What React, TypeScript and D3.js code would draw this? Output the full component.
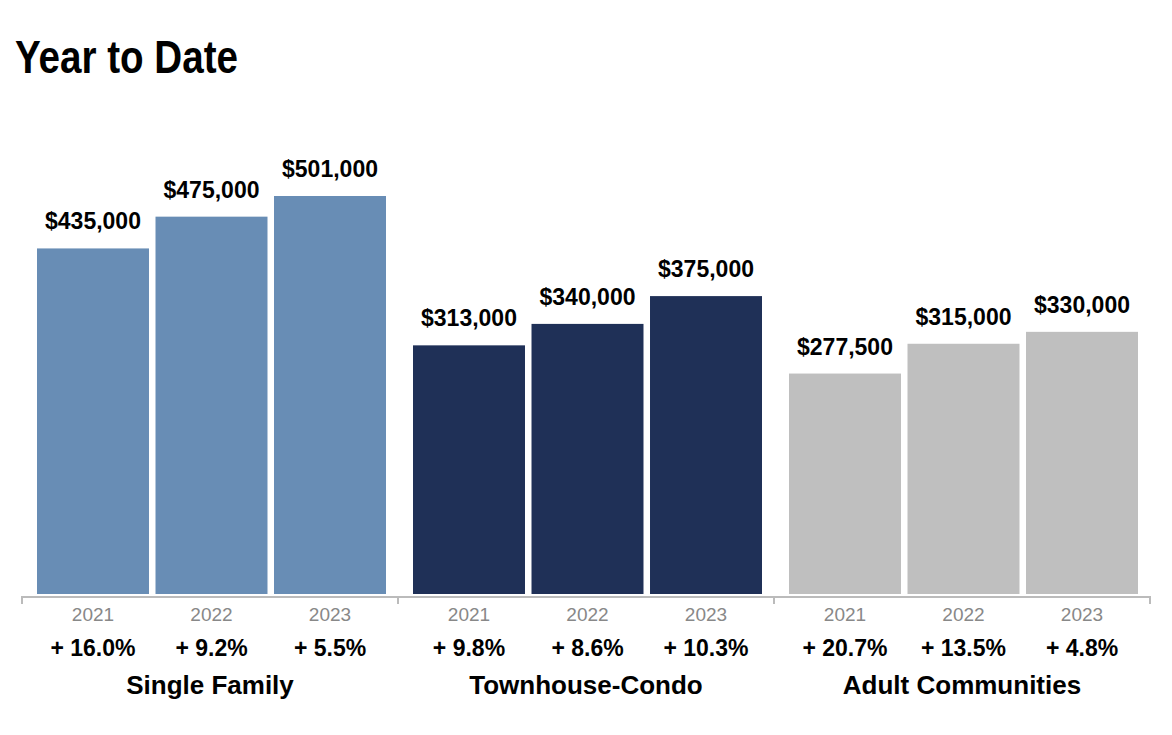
import React from 'react';
import * as d3 from 'd3';

const title = 'Year to Date';
const categories = ['Single Family', 'Townhouse-Condo', 'Adult Communities'];
const years = ['2021', '2022', '2023'];
const singleFamily = [435000, 475000, 501000];
const townhouseCondo = [313000, 340000, 375000];
const adultCommunities = [277500, 315000, 330000];
const changeSingleFamily = ['+ 16.0%', '+ 9.2%', '+ 5.5%'];
const changeTownhouse = ['+ 9.8%', '+ 8.6%', '+ 10.3%'];
const changeAdult = ['+ 20.7%', '+ 13.5%', '+ 4.8%'];
const colors = ['#688db5', '#1f3057', '#bfbfbf'];

const W = 1172;
const H = 735;
const baseY = 594;
const font = "'Liberation Sans', Arial, sans-serif";

const App: React.FC = () => {
  const series = [singleFamily, townhouseCondo, adultCommunities];
  const changes = [changeSingleFamily, changeTownhouse, changeAdult];

  const x0 = d3.scaleBand<string>().domain(categories).range([22, 1150]);
  const x1 = d3
    .scaleBand<string>()
    .domain(years)
    .range([15, x0.bandwidth() - 12])
    .paddingInner(0.055);
  const y = d3.scaleLinear().domain([0, 600000]).range([baseY, baseY - 398 * 600000 / 501000]);
  const fmt = (v: number) => '$' + d3.format(',')(v);

  const boundaries = [...categories.map(c => x0(c) as number), x0.range()[1]];

  return (
    <svg width={W} height={H} style={{ position: 'absolute', left: 0, top: 0, background: '#fff' }}>
      <text
        x={15}
        y={73}
        fontFamily={font}
        fontWeight="bold"
        fontSize={46}
        textLength={223}
        lengthAdjust="spacingAndGlyphs"
        fill="#000"
      >
        {title}
      </text>

      {categories.map((cat, ci) => {
        const gx = x0(cat) as number;
        return (
          <g key={cat} transform={`translate(${gx},0)`}>
            {years.map((yr, i) => {
              const v = series[ci][i];
              const bx = x1(yr) as number;
              const cx = bx + x1.bandwidth() / 2;
              return (
                <g key={yr}>
                  <rect x={bx} y={y(v)} width={x1.bandwidth()} height={baseY - y(v)} fill={colors[ci]} />
                  <text x={cx} y={y(v) - 19} textAnchor="middle" fontFamily={font} fontWeight="bold" fontSize={23} fill="#000">
                    {fmt(v)}
                  </text>
                  <text x={cx} y={621} textAnchor="middle" fontFamily={font} fontSize={19} fill="#888">
                    {yr}
                  </text>
                  <text x={cx} y={656} textAnchor="middle" fontFamily={font} fontWeight="bold" fontSize={23} fill="#000">
                    {changes[ci][i]}
                  </text>
                </g>
              );
            })}
            <text x={x0.bandwidth() / 2} y={694} textAnchor="middle" fontFamily={font} fontWeight="bold" fontSize={26} fill="#000">
              {cat}
            </text>
          </g>
        );
      })}

      <line x1={x0.range()[0]} x2={x0.range()[1]} y1={baseY + 3} y2={baseY + 3} stroke="#bbb" strokeWidth={2} />
      {boundaries.map((bx, i) => (
        <line key={i} x1={bx} x2={bx} y1={baseY + 2} y2={baseY + 10} stroke="#bbb" strokeWidth={2} />
      ))}
    </svg>
  );
};

export default App;
